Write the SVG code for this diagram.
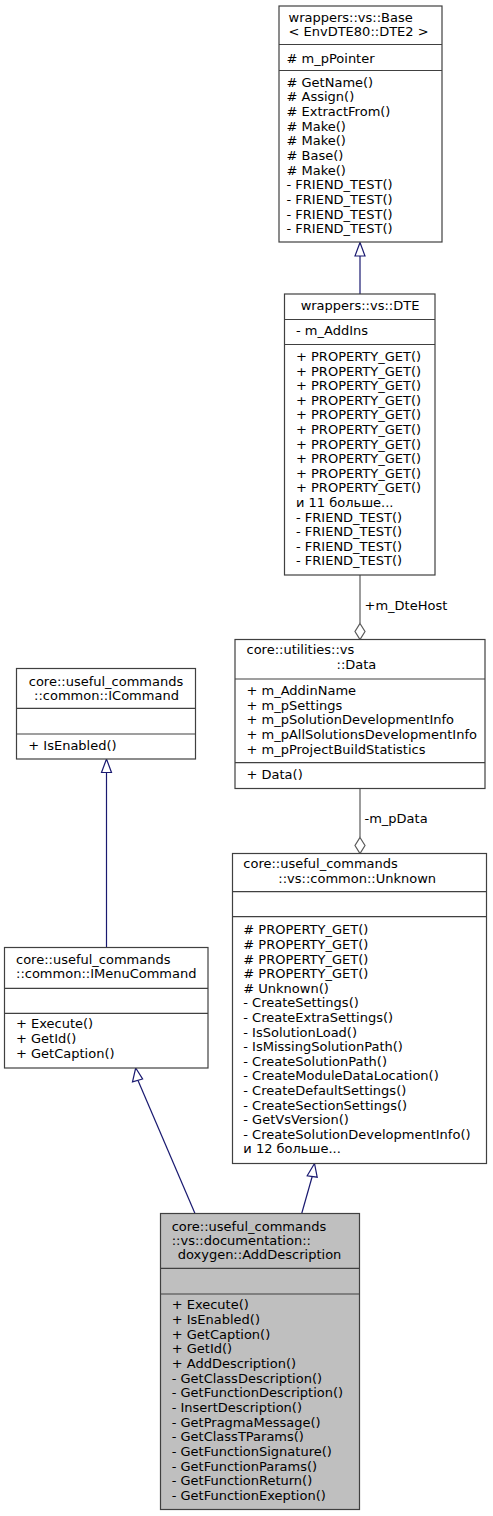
<svg xmlns="http://www.w3.org/2000/svg" width="493" height="1516" viewBox="0 0 493 1516">
<style>
.bg{fill:#fff}
.box{fill:#fff;stroke:#404040;stroke-width:1.2}
.cur{fill:#bfbfbf;stroke:#404040;stroke-width:1.2}
.sep{stroke:#404040;stroke-width:1.2}
text{font-family:"DejaVu Sans","Liberation Sans",sans-serif;font-size:13px;fill:#000}
.c{text-anchor:middle}
.inh{stroke:#191970;stroke-width:1.2;fill:none}
.head{stroke:#191970;stroke-width:1.2;fill:#fff}
.agg{stroke:#5a5a5a;stroke-width:1.2;fill:none}
.dia{stroke:#5a5a5a;stroke-width:1.2;fill:#fff}
</style>
<rect class="bg" x="0" y="0" width="493" height="1516"/>

<g id="connectors">
  <!-- Base -> DTE inheritance -->
  <line class="inh" x1="360" y1="294" x2="360" y2="256"/>
  <polygon class="head" points="360,242.5 355,256 365,256"/>
  <!-- DTE -> Data aggregation -->
  <line class="agg" x1="360" y1="575" x2="360" y2="623.5"/>
  <polygon class="dia" points="360,623.5 365,631.5 360,639.5 355,631.5"/>
  <text x="364.5" y="610">+m_DteHost</text>
  <!-- Data -> Unknown aggregation -->
  <line class="agg" x1="360" y1="788.5" x2="360" y2="837.5"/>
  <polygon class="dia" points="360,837.5 365,845.5 360,853.5 355,845.5"/>
  <text x="364.5" y="823">-m_pData</text>
  <!-- ICommand -> IMenuCommand inheritance -->
  <line class="inh" x1="106.5" y1="947.5" x2="106.5" y2="772.5"/>
  <polygon class="head" points="106.5,759 101.5,772.5 111.5,772.5"/>
  <!-- IMenuCommand -> AddDescription inheritance -->
  <line class="inh" x1="195" y1="1213.5" x2="138" y2="1080.5"/>
  <polygon class="head" points="135.7,1068 132.5,1081.8 142.6,1079"/>
  <!-- Unknown -> AddDescription inheritance -->
  <line class="inh" x1="301.7" y1="1213.5" x2="312.2" y2="1176.5"/>
  <polygon class="head" points="314.5,1163.5 307.2,1175.8 317.2,1177.2"/>
</g>

<g id="node-base">
  <rect class="box" x="279" y="6" width="163" height="236"/>
  <line class="sep" x1="279" y1="44.5" x2="442" y2="44.5"/>
  <line class="sep" x1="279" y1="70.5" x2="442" y2="70.5"/>
  <text x="288.5" y="21.5">wrappers::vs::Base</text>
  <text x="288.5" y="36">&lt; EnvDTE80::DTE2 &gt;</text>
  <text x="286.5" y="62.5"># m_pPointer</text>
  <text x="286.5" y="86.5"># GetName()</text>
  <text x="286.5" y="101.2"># Assign()</text>
  <text x="286.5" y="115.8"># ExtractFrom()</text>
  <text x="286.5" y="130.5"># Make()</text>
  <text x="286.5" y="145.2"># Make()</text>
  <text x="286.5" y="159.8"># Base()</text>
  <text x="286.5" y="174.5"># Make()</text>
  <text x="286.5" y="189.2">- FRIEND_TEST()</text>
  <text x="286.5" y="203.8">- FRIEND_TEST()</text>
  <text x="286.5" y="218.5">- FRIEND_TEST()</text>
  <text x="286.5" y="233.2">- FRIEND_TEST()</text>
</g>

<g id="node-dte">
  <rect class="box" x="284.5" y="294" width="150.5" height="281"/>
  <line class="sep" x1="284.5" y1="319.5" x2="435" y2="319.5"/>
  <line class="sep" x1="284.5" y1="344.5" x2="435" y2="344.5"/>
  <text class="c" x="360" y="310">wrappers::vs::DTE</text>
  <text x="296" y="335">- m_AddIns</text>
  <text x="296" y="361">+ PROPERTY_GET()</text>
  <text x="296" y="375.6">+ PROPERTY_GET()</text>
  <text x="296" y="390.2">+ PROPERTY_GET()</text>
  <text x="296" y="404.8">+ PROPERTY_GET()</text>
  <text x="296" y="419.4">+ PROPERTY_GET()</text>
  <text x="296" y="434">+ PROPERTY_GET()</text>
  <text x="296" y="448.6">+ PROPERTY_GET()</text>
  <text x="296" y="463.2">+ PROPERTY_GET()</text>
  <text x="296" y="477.8">+ PROPERTY_GET()</text>
  <text x="296" y="492.4">+ PROPERTY_GET()</text>
  <text x="296" y="507">и 11 больше...</text>
  <text x="296" y="521.6">- FRIEND_TEST()</text>
  <text x="296" y="536.2">- FRIEND_TEST()</text>
  <text x="296" y="550.8">- FRIEND_TEST()</text>
  <text x="296" y="565.4">- FRIEND_TEST()</text>
</g>

<g id="node-data">
  <rect class="box" x="235" y="639.5" width="250" height="149"/>
  <line class="sep" x1="235" y1="679" x2="485" y2="679"/>
  <line class="sep" x1="235" y1="762.7" x2="485" y2="762.7"/>
  <text x="246.5" y="654">core::utilities::vs</text>
  <text x="336.5" y="669">::Data</text>
  <text x="246.5" y="695">+ m_AddinName</text>
  <text x="246.5" y="709.7">+ m_pSettings</text>
  <text x="246.5" y="724.3">+ m_pSolutionDevelopmentInfo</text>
  <text x="246.5" y="739">+ m_pAllSolutionsDevelopmentInfo</text>
  <text x="246.5" y="753.7">+ m_pProjectBuildStatistics</text>
  <text x="246.5" y="779">+ Data()</text>
</g>

<g id="node-unknown">
  <rect class="box" x="232.5" y="853.5" width="254" height="310"/>
  <line class="sep" x1="232.5" y1="891.7" x2="486.5" y2="891.7"/>
  <line class="sep" x1="232.5" y1="916.7" x2="486.5" y2="916.7"/>
  <text x="243.3" y="868.3">core::useful_commands</text>
  <text x="278.3" y="882.6">::vs::common::Unknown</text>
  <text x="243.3" y="934.3"># PROPERTY_GET()</text>
  <text x="243.3" y="948.9"># PROPERTY_GET()</text>
  <text x="243.3" y="963.5"># PROPERTY_GET()</text>
  <text x="243.3" y="978.1"># PROPERTY_GET()</text>
  <text x="243.3" y="992.7"># Unknown()</text>
  <text x="243.3" y="1007.3">- CreateSettings()</text>
  <text x="243.3" y="1021.9">- CreateExtraSettings()</text>
  <text x="243.3" y="1036.5">- IsSolutionLoad()</text>
  <text x="243.3" y="1051.1">- IsMissingSolutionPath()</text>
  <text x="243.3" y="1065.7">- CreateSolutionPath()</text>
  <text x="243.3" y="1080.3">- CreateModuleDataLocation()</text>
  <text x="243.3" y="1094.9">- CreateDefaultSettings()</text>
  <text x="243.3" y="1109.5">- CreateSectionSettings()</text>
  <text x="243.3" y="1124.1">- GetVsVersion()</text>
  <text x="243.3" y="1138.7">- CreateSolutionDevelopmentInfo()</text>
  <text x="243.3" y="1153.3">и 12 больше...</text>
</g>

<g id="node-icommand">
  <rect class="box" x="16.5" y="668.5" width="179" height="90.5"/>
  <line class="sep" x1="16.5" y1="708.3" x2="195.5" y2="708.3"/>
  <line class="sep" x1="16.5" y1="734" x2="195.5" y2="734"/>
  <text class="c" x="106" y="685.5">core::useful_commands</text>
  <text class="c" x="106.5" y="699.8">::common::ICommand</text>
  <text x="28.3" y="750">+ IsEnabled()</text>
</g>

<g id="node-imenucommand">
  <rect class="box" x="4.5" y="947.5" width="203.5" height="120.5"/>
  <line class="sep" x1="4.5" y1="988.3" x2="208" y2="988.3"/>
  <line class="sep" x1="4.5" y1="1013.3" x2="208" y2="1013.3"/>
  <text x="16" y="964">core::useful_commands</text>
  <text x="16" y="978.3">::common::IMenuCommand</text>
  <text x="16" y="1028.3">+ Execute()</text>
  <text x="16" y="1043">+ GetId()</text>
  <text x="16" y="1057.7">+ GetCaption()</text>
</g>

<g id="node-adddescription">
  <rect class="cur" x="160.5" y="1213.5" width="199" height="296"/>
  <line class="sep" x1="160.5" y1="1268.3" x2="359.5" y2="1268.3"/>
  <line class="sep" x1="160.5" y1="1294" x2="359.5" y2="1294"/>
  <text x="171.7" y="1230.7">core::useful_commands</text>
  <text x="171.7" y="1245">::vs::documentation::</text>
  <text x="177.7" y="1259.3">doxygen::AddDescription</text>
  <text x="171.7" y="1309.3">+ Execute()</text>
  <text x="171.7" y="1324">+ IsEnabled()</text>
  <text x="171.7" y="1338.6">+ GetCaption()</text>
  <text x="171.7" y="1353.3">+ GetId()</text>
  <text x="171.7" y="1368">+ AddDescription()</text>
  <text x="171.7" y="1382.6">- GetClassDescription()</text>
  <text x="171.7" y="1397.3">- GetFunctionDescription()</text>
  <text x="171.7" y="1412">- InsertDescription()</text>
  <text x="171.7" y="1426.6">- GetPragmaMessage()</text>
  <text x="171.7" y="1441.3">- GetClassTParams()</text>
  <text x="171.7" y="1456">- GetFunctionSignature()</text>
  <text x="171.7" y="1470.6">- GetFunctionParams()</text>
  <text x="171.7" y="1485.3">- GetFunctionReturn()</text>
  <text x="171.7" y="1500">- GetFunctionExeption()</text>
</g>
</svg>
